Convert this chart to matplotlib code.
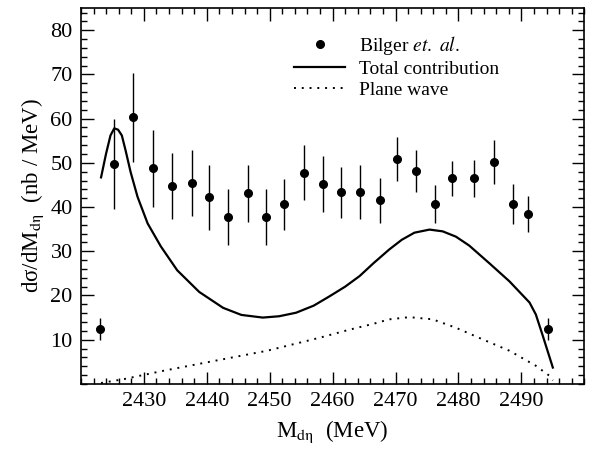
import numpy as np
import matplotlib
matplotlib.use("Agg")
import matplotlib.pyplot as plt
from matplotlib.lines import Line2D
from matplotlib.ticker import MultipleLocator

plt.rcParams["font.family"] = "Liberation Serif"
plt.rcParams["mathtext.fontset"] = "stix"

# Bilger et. al. data
m_data = [2423.0, 2425.2, 2428.3, 2431.4, 2434.4, 2437.6, 2440.3, 2443.3, 2446.5,
          2449.4, 2452.2, 2455.4, 2458.4, 2461.3, 2464.4, 2467.5, 2470.3, 2473.3,
          2476.3, 2479.0, 2482.5, 2485.6, 2488.6, 2491.1, 2494.3]
xs_data = [12.5, 49.8, 60.3, 48.8, 44.8, 45.4, 42.2, 37.8, 43.1,
           37.8, 40.6, 47.8, 45.2, 43.3, 43.3, 41.5, 50.9, 48.1,
           40.7, 46.5, 46.5, 50.2, 40.7, 38.4, 12.5]
xs_err = [2.5, 10.2, 10.0, 8.7, 7.4, 7.4, 7.3, 6.3, 6.5,
          6.3, 5.7, 6.2, 6.4, 5.7, 6.1, 5.0, 4.9, 4.7,
          4.2, 4.0, 4.2, 5.0, 4.6, 4.0, 2.5]

# total contribution curve
m_tot = [2423.2, 2424.0, 2424.7, 2425.3, 2425.9, 2426.5, 2427.1, 2427.9, 2429.0,
         2430.6, 2432.7, 2435.3, 2438.8, 2442.6, 2445.5, 2448.9, 2451.5, 2454.2,
         2457.0, 2459.5, 2462.0, 2464.3, 2466.5, 2469.0, 2471.0, 2473.0, 2475.4,
         2477.5, 2479.6, 2481.7, 2484.9, 2488.1, 2491.3, 2492.3, 2493.4, 2495.0]
xs_tot = [46.7, 52.1, 56.2, 57.8, 57.5, 56.2, 52.8, 47.9, 42.3,
          36.3, 31.1, 25.7, 20.8, 17.2, 15.6, 15.0, 15.3, 16.1,
          17.7, 19.8, 22.0, 24.4, 27.3, 30.4, 32.6, 34.2, 34.9,
          34.5, 33.3, 31.3, 27.3, 23.2, 18.4, 15.7, 10.9, 3.7]

# plane wave curve
m_pw = [2423.2, 2426.9, 2432.7, 2441.2, 2449.6, 2458.1, 2462.5, 2466.5, 2469.0,
        2472.2, 2475.9, 2479.6, 2483.8, 2488.1, 2492.3, 2494.4, 2495.0]
xs_pw = [0.2, 1.1, 2.85, 5.2, 7.5, 10.5, 12.2, 13.6, 14.6,
         15.1, 14.6, 12.7, 10.1, 7.5, 4.1, 1.9, 0.8]

fig = plt.figure(figsize=(5.95, 4.49), dpi=100)
ax = fig.add_axes([0.136, 0.145, 0.846, 0.837])

ax.errorbar(m_data, xs_data, yerr=xs_err, fmt="o", color="black", ms=5.5,
            elinewidth=1.0, capsize=0)
ax.plot(m_tot, xs_tot, "-", color="black", lw=1.6)
ax.plot(m_pw, xs_pw, color="black", lw=1.4, linestyle=(0, (1, 3)))

ax.set_xlim(2420, 2500)
ax.set_ylim(0, 85)
ax.set_xticks(np.arange(2430, 2491, 10))
ax.set_yticks(np.arange(10, 81, 10))
ax.xaxis.set_minor_locator(MultipleLocator(2))
ax.yaxis.set_minor_locator(MultipleLocator(2))
ax.tick_params(which="both", direction="in", top=True, right=True, labelsize=16)
ax.tick_params(which="major", length=9, width=1.0, pad=6)
ax.tick_params(which="minor", length=4.5, width=1.0)
for s in ax.spines.values():
    s.set_linewidth(1.2)

ax.set_xlabel(r"M$_{\mathrm{dη}}$  (MeV)", fontsize=16.5, labelpad=5)
ax.set_ylabel(r"dσ/dM$_{\mathrm{dη}}$  (nb / MeV)", fontsize=16.5, labelpad=3)

handles = [
    Line2D([], [], color="black", marker="o", ms=5.5, ls="none"),
    Line2D([], [], color="black", lw=1.6),
    Line2D([], [], color="black", lw=1.4, ls=(0, (1, 3))),
]
labels = [r"Bilger $\mathit{et.\ al.}$", "Total contribution", "Plane wave"]
ax.legend(handles, labels, loc="upper left", bbox_to_anchor=(0.424, 0.932),
          frameon=False, fontsize=14, handlelength=2.6, handletextpad=0.7,
          labelspacing=0.18, borderpad=0, borderaxespad=0)

fig.savefig("out.png", dpi=100)
